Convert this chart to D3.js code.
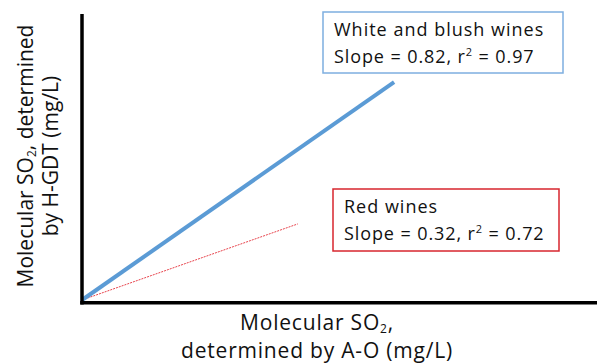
<!DOCTYPE html>
<html>
<head>
<meta charset="utf-8">
<script src="https://cdn.jsdelivr.net/npm/d3@7"></script>
<style>
  body { margin: 0; background: #fff; }
  text { font-family: "Open Sans", sans-serif; fill: #111; }
</style>
</head>
<body>
<script>
// schematic data, arbitrary units
var seriesNames = ["White and blush wines", "Red wines"];
var whiteLine = [[0, 0], [0.606, 0.762]];
var redLine = [[0, 0], [0.419, 0.266]];
var statLines = [
  ["White and blush wines", "Slope = 0.82, r", "2", " = 0.97"],
  ["Red wines", "Slope = 0.32, r", "2", " = 0.72"]
];

var width = 597, height = 363;

var xScale = d3.scaleLinear().domain([0, 1]).range([82, 597]);
var yScale = d3.scaleLinear().domain([0, 1]).range([300, 14]);

var svg = d3.select("body").append("svg")
    .attr("width", width)
    .attr("height", height);

var line = d3.line()
    .x(function(d) { return xScale(d[0]); })
    .y(function(d) { return yScale(d[1]); });

// lines
svg.append("path")
    .datum(redLine)
    .attr("d", line)
    .attr("fill", "none")
    .attr("stroke", "#e8434c")
    .attr("stroke-width", 1)
    .attr("stroke-dasharray", "2,1");

svg.append("path")
    .datum(whiteLine)
    .attr("d", line)
    .attr("fill", "none")
    .attr("stroke", "#5b9bd5")
    .attr("stroke-width", 4);

// axes, no ticks
svg.append("line")
    .attr("x1", xScale(0)).attr("x2", xScale(0))
    .attr("y1", yScale(1)).attr("y2", yScale(0) + 4.5)
    .attr("stroke", "#000").attr("stroke-width", 3.5);

svg.append("line")
    .attr("x1", xScale(0) - 1.75).attr("x2", xScale(1))
    .attr("y1", yScale(0) + 2.7).attr("y2", yScale(0) + 2.7)
    .attr("stroke", "#000").attr("stroke-width", 3.5);

// boxes
function drawBox(x, y, w, h, color, lines) {
  svg.append("rect")
      .attr("x", x).attr("y", y)
      .attr("width", w).attr("height", h)
      .attr("fill", "#fff")
      .attr("stroke", color)
      .attr("stroke-width", 1.5);
  svg.append("text")
      .attr("x", x + 11).attr("y", y + 24)
      .attr("font-size", "18px")
      .attr("letter-spacing", "1px")
      .text(lines[0]);
  var t = svg.append("text")
      .attr("x", x + 11).attr("y", y + 51)
      .attr("font-size", "18px")
      .attr("letter-spacing", "0.9px");
  t.append("tspan").text(lines[1]);
  t.append("tspan").attr("font-size", "11px").attr("dy", -7).text(lines[2]);
  t.append("tspan").attr("dy", 7).text(lines[3]);
}

drawBox(323, 12, 240, 61, "#7eaee0", statLines[0]);
drawBox(333, 189, 226, 62, "#d7262e", statLines[1]);

// x label
var xl = svg.append("text")
    .attr("x", 317).attr("y", 330)
    .attr("text-anchor", "middle")
    .attr("font-size", "21px")
    .attr("letter-spacing", "0.8px");
xl.append("tspan").text("Molecular SO");
xl.append("tspan").attr("font-size", "12px").attr("dy", 2.5).text("2");
xl.append("tspan").attr("dy", -2.5).text(",");

svg.append("text")
    .attr("x", 317).attr("y", 358)
    .attr("text-anchor", "middle")
    .attr("font-size", "21px")
    .attr("letter-spacing", "0.8px")
    .text("determined by A-O (mg/L)");

// y label
var yg = svg.append("g").attr("transform", "translate(33,156) rotate(-90)");
var yl = yg.append("text")
    .attr("text-anchor", "middle")
    .attr("font-size", "21px");
yl.append("tspan").text("Molecular SO");
yl.append("tspan").attr("font-size", "12px").attr("dy", 2.5).text("2");
yl.append("tspan").attr("dy", -2.5).text(", determined");

yg.append("text")
    .attr("y", 25)
    .attr("text-anchor", "middle")
    .attr("font-size", "21px")
    .text("by H-GDT (mg/L)");
</script>
</body>
</html>
